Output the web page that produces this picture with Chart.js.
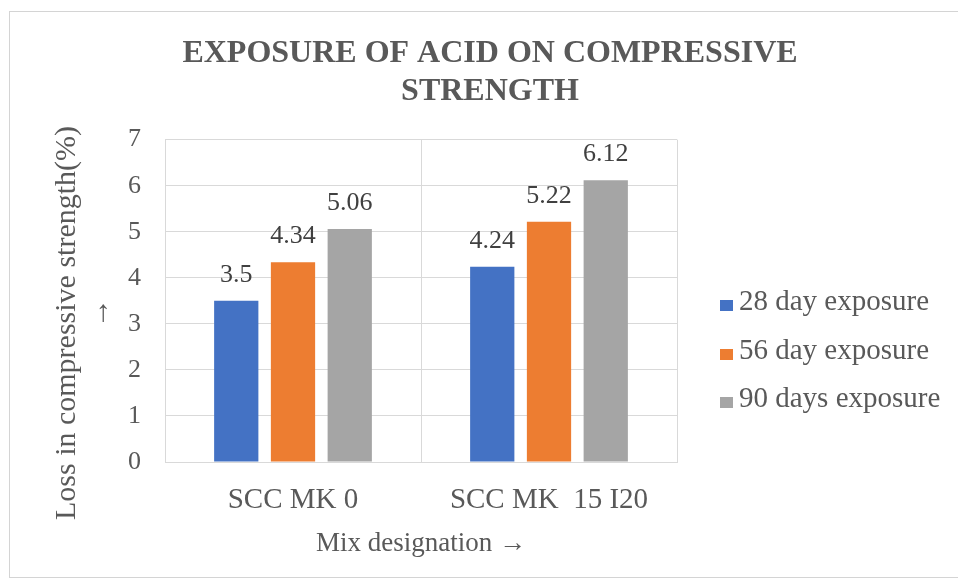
<!DOCTYPE html>
<html>
<head>
<meta charset="utf-8">
<title>Exposure of acid on compressive strength</title>
<script src="https://cdn.jsdelivr.net/npm/chart.js@4.4.1/dist/chart.umd.min.js"></script>
<style>
  html, body { margin: 0; padding: 0; background: #ffffff; }
  #wrap { position: relative; width: 958px; height: 582px; overflow: hidden; }
  #frame { position: absolute; left: 9px; top: 11px; width: 970px; height: 567px;
           border: 1.5px solid #d4d4d4; box-sizing: border-box; }
  #c { position: absolute; left: 0; top: 0; }
</style>
</head>
<body>
<div id="wrap">
  <div id="frame"></div>
  <canvas id="c" width="958" height="582"></canvas>
</div>
<script>
// Mix designations on the x axis
const categories = ['SCC MK 0', 'SCC MK  15 I20'];

// Loss in compressive strength (%) per exposure period
const seriesNames = ['28 day exposure', '56 day exposure', '90 days exposure'];
const day28 = [3.5, 4.24];
const day56 = [4.34, 5.22];
const day90 = [5.06, 6.12];

// Value axis ticks
const yTicks = [0, 1, 2, 3, 4, 5, 6, 7];

const seriesColors = ['#4472C4', '#ED7D31', '#A5A5A5'];
const textGrey = '#595959';
const gridGrey = '#d9d9d9';
const serif = '"Liberation Serif", "Times New Roman", serif';

// Value printed above every bar
const barValueLabels = {
  id: 'barValueLabels',
  afterDatasetsDraw(chart) {
    const ctx = chart.ctx;
    ctx.save();
    ctx.font = '26px ' + serif;
    ctx.fillStyle = '#404040';
    ctx.textAlign = 'center';
    ctx.textBaseline = 'alphabetic';
    chart.data.datasets.forEach((ds, i) => {
      chart.getDatasetMeta(i).data.forEach((bar, j) => {
        ctx.fillText(String(ds.data[j]), bar.x, bar.y - 19);
      });
    });
    ctx.restore();
  }
};

// Rotated value-axis title, two lines (text + arrow)
const valueAxisTitle = {
  id: 'valueAxisTitle',
  afterDraw(chart) {
    const ctx = chart.ctx;
    ctx.save();
    ctx.fillStyle = textGrey;
    ctx.textAlign = 'center';
    ctx.font = '30px ' + serif;
    ctx.translate(75, 323);
    ctx.rotate(-Math.PI / 2);
    ctx.textBaseline = 'alphabetic';
    ctx.fillText('Loss in compressive strength(%)', 0, 0);
    ctx.restore();

    ctx.save();
    ctx.fillStyle = textGrey;
    ctx.textAlign = 'center';
    ctx.font = '30px ' + serif;
    ctx.translate(100, 313);
    ctx.rotate(-Math.PI / 2);
    ctx.textBaseline = 'middle';
    ctx.fillText('\u2192', 0, 0);
    ctx.restore();
  }
};

// Legend to the right of the plot
const sideLegend = {
  id: 'sideLegend',
  afterDraw(chart) {
    const ctx = chart.ctx;
    const x0 = chart.chartArea.right + 43;
    const baseY = 310;
    const step = 48.5;
    ctx.save();
    ctx.font = '29px ' + serif;
    ctx.textAlign = 'left';
    ctx.textBaseline = 'alphabetic';
    chart.data.datasets.forEach((ds, i) => {
      const y = Math.round(baseY + i * step);
      ctx.fillStyle = ds.backgroundColor;
      ctx.fillRect(x0, y - 10, 13, 11);
      ctx.fillStyle = textGrey;
      ctx.fillText(ds.label, x0 + 19, y);
    });
    ctx.restore();
  }
};

const seriesData = [day28, day56, day90];

new Chart(document.getElementById('c'), {
  type: 'bar',
  data: {
    labels: categories,
    datasets: seriesNames.map((name, i) => ({
      label: name,
      data: seriesData[i],
      backgroundColor: seriesColors[i],
      borderWidth: 0,
      categoryPercentage: 0.665,
      barPercentage: 0.78
    }))
  },
  options: {
    responsive: false,
    animation: false,
    devicePixelRatio: 1,
    layout: { padding: { left: 32, right: 10, top: 12, bottom: 12 } },
    plugins: {
      legend: { display: false },
      tooltip: { enabled: false },
      title: {
        display: true,
        text: ['EXPOSURE OF ACID ON COMPRESSIVE', 'STRENGTH'],
        color: textGrey,
        font: { family: serif, size: 32, weight: 'bold', lineHeight: 1.19 },
        padding: { top: 23, bottom: 28.5 }
      }
    },
    scales: {
      x: {
        grid: { display: true, color: gridGrey, lineWidth: 1, drawTicks: false, offset: true },
        border: { display: true, color: gridGrey },
        ticks: { color: textGrey, font: { family: serif, size: 29 }, padding: 21 },
        title: {
          display: true,
          text: 'Mix designation \u2192',
          color: textGrey,
          font: { family: serif, size: 27, lineHeight: 1.2 },
          padding: { top: 0, bottom: 10 }
        },
        afterFit(scale) { scale.height = 108; }
      },
      y: {
        min: 0,
        max: 7,
        afterBuildTicks(scale) { scale.ticks = yTicks.map(v => ({ value: v })); },
        grid: { color: gridGrey, lineWidth: 1, drawTicks: false },
        border: { display: false },
        ticks: { color: textGrey, font: { family: serif, size: 26 }, padding: 24 },
        afterFit(scale) { scale.width = 133; }
      },
      // empty right-hand axis that keeps room for the legend column
      legendSpace: {
        type: 'linear',
        position: 'right',
        display: true,
        grid: { display: false, drawOnChartArea: false, drawTicks: false },
        border: { display: false },
        ticks: { display: false },
        afterFit(scale) { scale.width = 271; }
      }
    }
  },
  plugins: [barValueLabels, valueAxisTitle, sideLegend]
});
</script>
</body>
</html>
